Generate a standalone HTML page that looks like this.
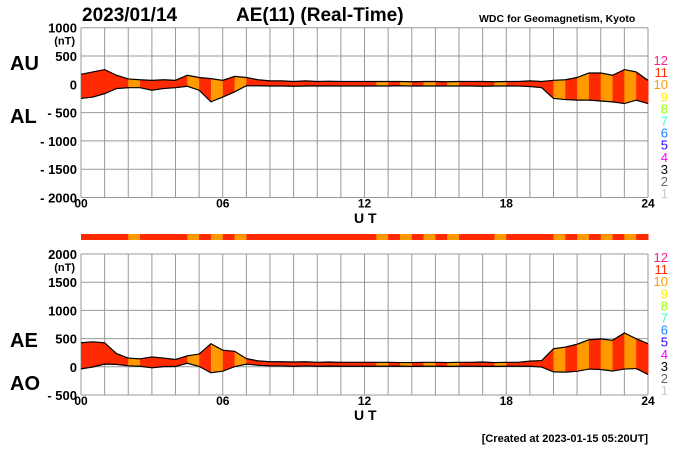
<!DOCTYPE html>
<html><head><meta charset="utf-8"><style>
body{margin:0;background:#fff;}
svg{display:block;font-family:"Liberation Sans",Arial,sans-serif;}
</style></head><body>
<svg id="c" width="700" height="450" viewBox="0 0 700 450">
<text x="82" y="21" font-size="19" font-weight="bold">2023/01/14</text>
<text x="236" y="21" font-size="19" font-weight="bold">AE(11) (Real-Time)</text>
<text x="479" y="22" font-size="10.5" font-weight="bold">WDC for Geomagnetism, Kyoto</text>
<text x="10" y="70" font-size="20" font-weight="bold">AU</text>
<text x="10" y="123" font-size="20" font-weight="bold">AL</text>
<text x="10" y="347" font-size="20" font-weight="bold">AE</text>
<text x="10" y="390" font-size="20" font-weight="bold">AO</text>
<text x="354" y="223" font-size="14" font-weight="bold">U T</text>
<text x="354" y="420" font-size="14" font-weight="bold">U T</text>
<text x="648" y="442" font-size="11" font-weight="bold" text-anchor="end">[Created at 2023-01-15 05:20UT]</text>
<g id="g"></g>
</svg>
<script>
// half-hourly values, hours 0..24
const hours = [0,0.5,1,1.5,2,2.5,3,3.5,4,4.5,5,5.5,6,6.5,7,7.5,8,8.5,9,9.5,10,10.5,11,11.5,12,12.5,13,13.5,14,14.5,15,15.5,16,16.5,17,17.5,18,18.5,19,19.5,20,20.5,21,21.5,22,22.5,23,23.5,24];
const auValues = [176,218,260,160,95,80,70,80,70,160,120,100,70,140,120,80,60,60,50,60,50,55,50,50,50,50,50,50,45,50,50,45,50,50,50,45,50,50,60,50,70,80,120,200,200,160,260,218,70];
const alValues = [-250,-225,-165,-75,-60,-60,-105,-75,-60,-35,-105,-310,-225,-135,-25,-25,-30,-30,-35,-30,-30,-30,-30,-30,-30,-30,-30,-25,-30,-30,-30,-30,-30,-30,-35,-30,-30,-30,-40,-60,-250,-270,-280,-280,-295,-310,-340,-280,-340];
// stations count per half-hour segment
const stationCounts = [11,11,11,11,10,11,11,11,11,10,11,10,11,10,11,11,11,11,11,11,11,11,11,11,11,10,11,10,11,10,11,10,11,11,11,10,11,11,11,11,10,11,10,11,10,11,10,11];
const topTicks = [1000,500,0,-500,-1000,-1500,-2000];
const bottomTicks = [2000,1500,1000,500,0,-500];
const xTicks = ["00","06","12","18","24"];
const legendNums = ["12","11","10","9","8","7","6","5","4","3","2","1"];
const legendCols = ["#ff1a8c","#ff2a00","#ff9900","#ffee00","#99ff00","#33ffcc","#1a80ff","#3300ff","#ff00ff","#000","#666","#ccc"];

const NS="http://www.w3.org/2000/svg", g=document.getElementById('g');
function mk(t,a){const e=document.createElementNS(NS,t);for(const k in a)e.setAttribute(k,a[k]);g.appendChild(e);return e;}
const X0=81,X1=648;
const xs=h=>X0+(X1-X0)*h/24;
const colorFor=n=>n>=11?"#ff2a00":"#ff9900";
const aeValues=auValues.map((u,i)=>u-alValues[i]);
const aoValues=auValues.map((u,i)=>(u+alValues[i])/2);

function panel(prefix,top,bot,vmax,vmin,ticks,upper,lower,legY){
  const ys=v=>top+(bot-top)*(vmax-v)/(vmax-vmin);
  for(let h=0;h<=24;h++){const l=mk('line',{x1:xs(h),x2:xs(h),y1:top,y2:bot,stroke:'#999','stroke-width':1});
    }
  ticks.forEach((v,i)=>{const l=mk('line',{x1:X0,x2:X1,y1:ys(v),y2:ys(v),stroke:'#999','stroke-width':1});
    
    const t=mk('text',{x:77,y:ys(v)+5,'font-size':13,'font-weight':'bold','text-anchor':'end'});
    t.textContent=v<0?'- '+(-v):String(v);
    
    if(i===0){const u=mk('text',{x:75,y:ys(v)+17,'font-size':11,'font-weight':'bold','text-anchor':'end'});u.textContent='(nT)';
      }
  });
  xTicks.forEach(s=>{const t=mk('text',{x:xs(+s),y:bot+10,'font-size':12,'font-weight':'bold','text-anchor':'middle'});t.textContent=s;
    });
  for(let i=0;i<hours.length-1;i++){
    const p=[[xs(hours[i]),ys(upper[i])],[xs(hours[i+1])+0.5,ys(upper[i+1])],[xs(hours[i+1])+0.5,ys(lower[i+1])],[xs(hours[i]),ys(lower[i])]];
    const e=mk('polygon',{points:p.map(q=>q.join(',')).join(' '),fill:colorFor(stationCounts[i])});
    
  }
  [upper,lower].forEach((arr,k)=>{const e=mk('polyline',{points:arr.map((v,i)=>xs(hours[i])+','+ys(v)).join(' '),fill:'none',stroke:'#000','stroke-width':1.2});
    });
  legendNums.forEach((n,i)=>{const t=mk('text',{x:668,y:legY+i*12.1,'font-size':13,'text-anchor':'end',fill:legendCols[i]});t.textContent=n;
    });
}
panel('top',27.7,197.5,1000,-2000,topTicks,auValues,alValues,65);
panel('bottom',254,395,2000,-500,bottomTicks,aeValues,aoValues,262);
for(let i=0;i<stationCounts.length;i++){
  const r=mk('rect',{x:xs(hours[i]),y:234,width:xs(hours[i+1])-xs(hours[i])+0.5,height:6,fill:colorFor(stationCounts[i])});
  
}
</script>
</body></html>
